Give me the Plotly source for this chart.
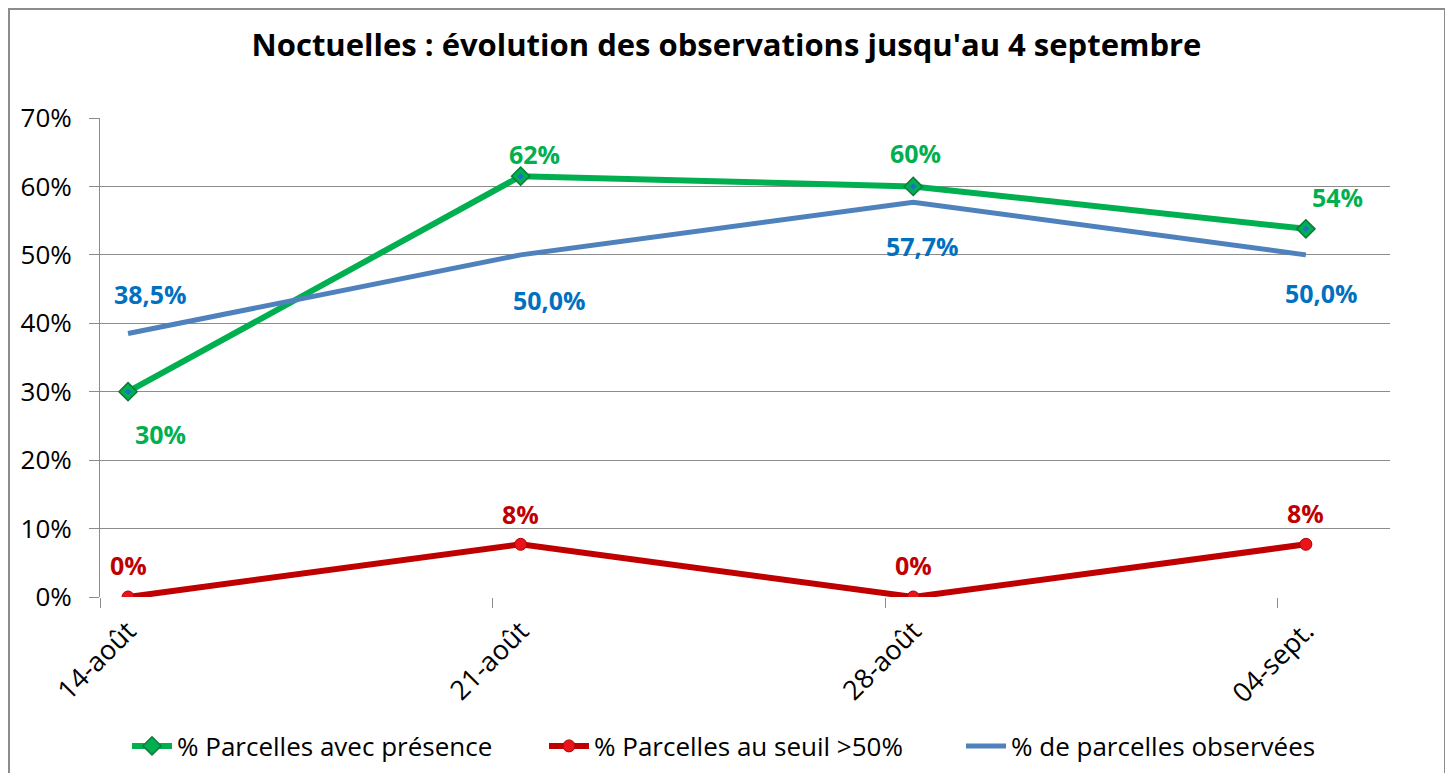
import plotly.graph_objects as go

# ---- data ----
dates = ["14-août", "21-août", "28-août", "04-sept."]
day_offset = [0, 7, 14, 21]          # days since 14 août
presence = [30.0, 61.5, 60.0, 53.8]   # % Parcelles avec présence
seuil = [0.0, 7.7, 0.0, 7.7]          # % Parcelles au seuil >50%
observees = [38.5, 50.0, 57.7, 50.0]  # % de parcelles observées
y_ticks = [0, 10, 20, 30, 40, 50, 60, 70]

# points sit in the middle of their day on the date axis
xpos = [d + 0.5 for d in day_offset]

GREEN = "#00B050"
RED = "#C00000"
BLUE_LINE = "#4F81BD"
BLUE_TXT = "#0070C0"
GRID = "#8C8C8C"
FONT = "Open Sans"

# page has an 8px body margin; figure is sized/placed to compensate
W, H = 1437, 765
L, R, T, B = 92, 55, 110, 176
PW, PH = W - L - R, H - T - B

fig = go.Figure()
fig.add_trace(go.Scatter(
    x=xpos, y=presence, name="% Parcelles avec présence", mode="lines+markers",
    line=dict(color=GREEN, width=6),
    marker=dict(symbol="diamond", size=14, color=GREEN,
                line=dict(color="#0A7A3A", width=1.5)),
))
fig.add_trace(go.Scatter(
    x=xpos, y=seuil, name="% Parcelles au seuil >50%", mode="lines+markers",
    line=dict(color=RED, width=6),
    marker=dict(symbol="circle", size=12, color="#E8141A",
                line=dict(color="#B00000", width=1)),
))
fig.add_trace(go.Scatter(
    x=xpos, y=observees, name="% de parcelles observées", mode="lines",
    line=dict(color=BLUE_LINE, width=5),
))
# blue centre of the green diamonds (decorative)
fig.add_trace(go.Scatter(
    x=xpos, y=presence, mode="markers", showlegend=False, hoverinfo="skip",
    marker=dict(symbol="diamond", size=5, color="#1F6FD0"),
))

# ---- data labels ----
def fmt0(v):
    return f"{v:.0f}%"

def fmt1(v):
    return f"{v:.1f}".replace(".", ",") + "%"

green_off = [(32, 42), (14, -22), (2, -33), (32, -32)]
blue_off = [(22, -40), (29, 45), (9, 44), (16, 38)]
red_off = [(0, -32), (0, -30), (0, -32), (0, -31)]

annotations = []
for vals, offs, col, f in [(presence, green_off, GREEN, fmt0),
                           (observees, blue_off, BLUE_TXT, fmt1),
                           (seuil, red_off, RED, fmt0)]:
    for x, v, (dx, dy) in zip(xpos, vals, offs):
        annotations.append(dict(
            x=x, y=v, xref="x", yref="y", text=f(v), showarrow=False,
            xshift=dx, yshift=-dy, xanchor="center", yanchor="middle",
            font=dict(family=FONT, size=25, color=col, weight="bold"),
        ))

fig.update_layout(
    width=W, height=H,
    margin=dict(l=L, r=R, t=T, b=B, autoexpand=False),
    paper_bgcolor="white", plot_bgcolor="white",
    font=dict(family=FONT, color="black"),
    title=dict(text="Noctuelles : évolution des observations jusqu'au 4 septembre",
               x=0.5, xanchor="center", y=1 - 37 / H, yanchor="middle",
               font=dict(family=FONT, size=31, color="black", weight="bold")),
    xaxis=dict(
        range=[0, 23], tickmode="array", tickvals=xpos, ticktext=dates,
        tickangle=-45, ticks="", showgrid=False, zeroline=False,
        showline=False, tickfont=dict(size=27, color="black"),
        ticklabelstandoff=12, automargin=False,
        minor=dict(tick0=0, dtick=7, ticks="outside", ticklen=10,
                   tickcolor=GRID, showgrid=False),
    ),
    yaxis=dict(
        range=[0, 70], tickmode="array", tickvals=y_ticks,
        ticktext=[f"{t}%" for t in y_ticks],
        showgrid=True, gridcolor=GRID, gridwidth=1, zeroline=False,
        showline=True, linecolor=GRID, linewidth=1,
        ticks="outside", ticklen=10, tickcolor=GRID, automargin=False,
        tickfont=dict(size=26, color="black"), ticklabelstandoff=12,
    ),
    legend=dict(orientation="h", xref="container", yref="container",
                x=119 / W, xanchor="left",
                y=1 - 738 / H, yanchor="middle",
                font=dict(family=FONT, size=26, color="black"),
                itemwidth=40, entrywidthmode="pixels", entrywidth=362,
                bgcolor="rgba(0,0,0,0)"),
    annotations=annotations,
    showlegend=True,
)

# outer chart border
fig.add_shape(type="rect", xref="paper", yref="paper",
              x0=(1 - L) / PW, x1=(1437 - L) / PW,
              y0=(H - B - 800) / PH, y1=(H - B - 1) / PH,
              line=dict(color="#8C8C8C", width=2), fillcolor="rgba(0,0,0,0)",
              layer="below")

fig.write_html("out.html")
